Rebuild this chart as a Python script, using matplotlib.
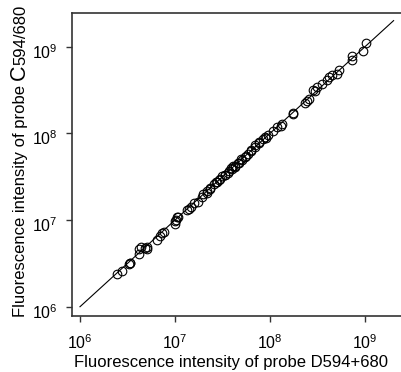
import numpy as np
import matplotlib
matplotlib.use('Agg')
import matplotlib.pyplot as plt
import matplotlib.transforms as mtransforms

plt.rcParams['font.family'] = ['Liberation Sans', 'DejaVu Sans']
plt.rcParams['mathtext.fontset'] = 'custom'
plt.rcParams['mathtext.rm'] = 'Liberation Sans'

# probe D594+680 (x) vs probe C594/680 (y)
d_int = [2.47e6, 2.77e6, 3.30e6, 3.35e6, 3.40e6, 4.21e6, 4.15e6, 4.41e6, 4.86e6, 5.07e6,
         5.03e6, 6.41e6, 6.95e6, 7.66e6, 7.30e6, 1.007e7, 9.93e6, 1.04e7, 1.077e7, 1.02e7,
         1.35e7, 1.40e7, 1.49e7, 1.60e7, 1.75e7, 1.92e7, 1.97e7, 2.19e7, 2.17e7, 2.33e7,
         2.35e7, 2.70e7, 2.75e7, 2.92e7, 2.97e7, 3.38e7, 3.35e7, 3.67e7, 3.92e7, 3.98e7,
         4.25e7, 4.28e7, 4.60e7, 4.72e7, 4.95e7, 5.07e7, 5.40e7, 5.86e7, 6.26e7, 6.30e7,
         6.90e7, 6.95e7, 7.60e7, 7.65e7, 8.43e7, 8.85e7, 9.05e7, 9.50e7, 1.077e8, 1.186e8,
         1.31e8, 1.34e8, 1.75e8, 1.76e8, 2.34e8, 2.45e8, 2.57e8, 2.84e8, 2.98e8, 3.13e8,
         3.53e8, 3.98e8, 4.18e8, 4.50e8, 5.07e8, 5.32e8, 7.29e8, 7.29e8, 9.53e8, 1.017e9,
         3.10e7, 3.60e7, 4.05e7, 2.55e7, 5.60e7]
c_int = [2.37e6, 2.60e6, 3.15e6, 3.22e6, 3.20e6, 4.59e6, 4.06e6, 4.92e6, 4.75e6, 4.92e6,
         4.63e6, 5.88e6, 6.53e6, 7.27e6, 7.08e6, 9.00e6, 9.66e6, 1.08e7, 1.08e7, 1.00e7,
         1.30e7, 1.34e7, 1.43e7, 1.57e7, 1.61e7, 1.84e7, 2.00e7, 2.05e7, 2.16e7, 2.28e7,
         2.35e7, 2.74e7, 2.78e7, 2.89e7, 2.97e7, 3.35e7, 3.30e7, 3.72e7, 3.98e7, 3.88e7,
         4.26e7, 4.10e7, 4.51e7, 4.55e7, 5.06e7, 4.95e7, 5.30e7, 5.77e7, 6.19e7, 6.40e7,
         7.00e7, 7.30e7, 7.94e7, 7.80e7, 8.60e7, 9.06e7, 8.85e7, 9.50e7, 1.065e8, 1.18e8,
         1.22e8, 1.27e8, 1.67e8, 1.72e8, 2.23e8, 2.36e8, 2.49e8, 3.16e8, 3.08e8, 3.42e8,
         3.71e8, 4.12e8, 4.47e8, 4.71e8, 4.83e8, 5.37e8, 7.80e8, 7.01e8, 8.90e8, 1.09e9,
         3.20e7, 3.50e7, 4.15e7, 2.60e7, 5.50e7]
fit_x = [1e6, 2e9]
fit_y = [1e6, 2e9]
ticks = [1e6, 1e7, 1e8, 1e9]
tick_labels = [r'$\mathregular{10^{6}}$', r'$\mathregular{10^{7}}$',
               r'$\mathregular{10^{8}}$', r'$\mathregular{10^{9}}$']

fig = plt.figure(figsize=(4.01, 3.72), dpi=100)
ax = fig.add_axes([72/401, 56/372, 329/401, 303/372])

ax.plot(fit_x, fit_y, color='black', lw=0.8, zorder=1)
ax.plot(d_int, c_int, 'o', mfc='none', mec='black', ms=6.2, mew=0.8, zorder=2)

ax.set_xscale('log')
ax.set_yscale('log')
ax.set_xlim(10**5.916, 10**9.379)
ax.set_ylim(10**5.893, 10**9.389)
ax.set_xticks(ticks)
ax.set_xticklabels(tick_labels)
ax.set_yticks(ticks)
ax.set_yticklabels(tick_labels)
ax.minorticks_off()
ax.tick_params(direction='out', length=4.3, width=1.0, color='#333333',
               labelsize=11.5)
ax.tick_params(axis='x', pad=8)
ax.tick_params(axis='y', pad=6)

# y tick labels sit a bit below their ticks in the original
off = mtransforms.ScaledTranslation(0, -4/100, fig.dpi_scale_trans)
for lab in ax.get_yticklabels():
    lab.set_transform(lab.get_transform() + off)

for s in ['left', 'top', 'bottom']:
    ax.spines[s].set_color('#333333')
    ax.spines[s].set_linewidth(1.2)
ax.spines['right'].set_visible(False)

fig.text(231/401, 5/372, 'Fluorescence intensity of probe D594+680',
         ha='center', va='baseline', fontsize=12)

# y label with a bigger "C"
fig.canvas.draw()
r = fig.canvas.get_renderer()
x0 = 25/401
y0 = 55/372
parts = [('Fluorescence intensity of probe ', 12), ('C', 15.5), ('594/680', 12)]
for txt, fs in parts:
    t = fig.text(x0, y0, txt, rotation=90, rotation_mode='anchor',
                 ha='left', va='baseline', fontsize=fs)
    bb = t.get_window_extent(renderer=r)
    y0 += bb.height / fig.bbox.height

fig.savefig('out.png', dpi=100)
